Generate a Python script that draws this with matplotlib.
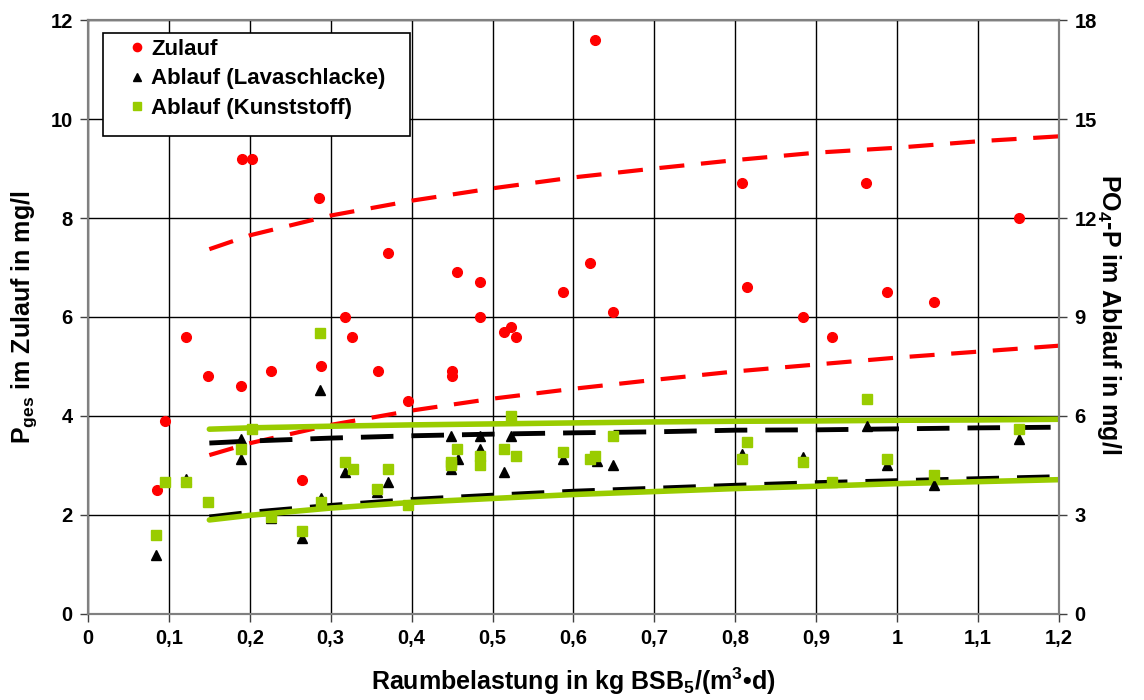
import numpy as np
import matplotlib
matplotlib.use('Agg')
import matplotlib.pyplot as plt
from matplotlib.patches import Rectangle

plt.rcParams['font.family'] = 'Liberation Sans'
plt.rcParams['font.weight'] = 'bold'
plt.rcParams['mathtext.fontset'] = 'custom'
plt.rcParams['mathtext.rm'] = 'Liberation Sans:bold'
plt.rcParams['mathtext.it'] = 'Liberation Sans:bold'
plt.rcParams['mathtext.bf'] = 'Liberation Sans:bold'
plt.rcParams['mathtext.default'] = 'rm'

# Zulauf (P_ges, left axis)
zu_x = [0.085, 0.095, 0.121, 0.148, 0.189, 0.190, 0.203, 0.226, 0.265, 0.286, 0.288, 0.318,
        0.326, 0.358, 0.371, 0.395, 0.450, 0.450, 0.456, 0.484, 0.485, 0.514, 0.523, 0.529,
        0.587, 0.620, 0.627, 0.649, 0.808, 0.815, 0.884, 0.919, 0.962, 0.987, 1.045, 1.150]
zu_y = [2.5, 3.9, 5.6, 4.8, 4.6, 9.2, 9.2, 4.9, 2.7, 8.4, 5.0, 6.0,
        5.6, 4.9, 7.3, 4.3, 4.9, 4.8, 6.9, 6.0, 6.7, 5.7, 5.8, 5.6,
        6.5, 7.1, 11.6, 6.1, 8.7, 6.6, 6.0, 5.6, 8.7, 6.5, 6.3, 8.0]

# Ablauf Lavaschlacke (PO4-P, right axis)
lava_x = [0.084, 0.121, 0.189, 0.189, 0.226, 0.265, 0.287, 0.288, 0.318, 0.357, 0.371, 0.449,
          0.449, 0.457, 0.484, 0.484, 0.514, 0.523, 0.587, 0.629, 0.649, 0.808, 0.884, 0.963,
          0.987, 1.045, 1.151]
lava_y = [1.8, 4.1, 5.3, 4.7, 2.9, 2.3, 6.8, 3.5, 4.3, 3.7, 4.0, 5.4,
          4.4, 4.7, 5.4, 5.0, 4.3, 5.4, 4.7, 4.65, 4.5, 4.85, 4.75, 5.7,
          4.5, 3.9, 5.3]

# Ablauf Kunststoff (PO4-P, right axis)
kunst_x = [0.084, 0.095, 0.121, 0.148, 0.189, 0.203, 0.226, 0.265, 0.287, 0.288, 0.318, 0.327,
           0.357, 0.371, 0.395, 0.449, 0.449, 0.456, 0.484, 0.484, 0.514, 0.523, 0.529, 0.587,
           0.620, 0.627, 0.649, 0.808, 0.815, 0.884, 0.919, 0.963, 0.987, 1.045, 1.151]
kunst_y = [2.4, 4.0, 4.0, 3.4, 5.0, 5.6, 2.95, 2.5, 8.5, 3.4, 4.6, 4.4,
           3.8, 4.4, 3.3, 4.6, 4.5, 5.0, 4.8, 4.5, 5.0, 6.0, 4.8, 4.9,
           4.7, 4.8, 5.4, 4.7, 5.2, 4.6, 4.0, 6.5, 4.7, 4.2, 5.6]

# trend / band curves
band_x = [0.15, 0.2, 0.3, 0.4, 0.5, 0.6, 0.7, 0.8, 0.9, 1.0, 1.1, 1.2]
zu_upper = [7.37, 7.65, 8.05, 8.35, 8.60, 8.82, 9.00, 9.17, 9.32, 9.42, 9.55, 9.65]
zu_lower = [3.21, 3.45, 3.82, 4.11, 4.35, 4.55, 4.73, 4.90, 5.04, 5.18, 5.30, 5.42]
lava_upper = [5.18, 5.24, 5.33, 5.40, 5.45, 5.49, 5.52, 5.57, 5.58, 5.61, 5.64, 5.66]
lava_lower = [2.94, 3.08, 3.29, 3.47, 3.60, 3.72, 3.81, 3.90, 3.98, 4.04, 4.10, 4.16]
kunst_upper = [5.60, 5.64, 5.69, 5.73, 5.76, 5.79, 5.82, 5.84, 5.85, 5.87, 5.88, 5.90]
kunst_lower = [2.85, 2.99, 3.21, 3.38, 3.50, 3.62, 3.71, 3.80, 3.87, 3.95, 4.01, 4.07]

red = '#FF0000'
green = '#99CC00'

fig = plt.figure(figsize=(11.44, 7), dpi=100)
ax = fig.add_axes([0.0769, 0.1229, 0.8488, 0.8485])
ax2 = ax.twinx()

ax.set_xlim(0, 1.2)
ax.set_ylim(0, 12)
ax2.set_ylim(0, 18)
ax.set_xticks(np.arange(0, 1.21, 0.1))
ax.set_xticklabels(['0', '0,1', '0,2', '0,3', '0,4', '0,5', '0,6', '0,7', '0,8', '0,9', '1', '1,1', '1,2'])
ax.set_yticks(np.arange(0, 12.1, 2))
ax2.set_yticks(np.arange(0, 18.1, 3))
ax.grid(True, color='black', linewidth=1)
ax.set_axisbelow(True)

for a in (ax, ax2):
    for s in a.spines.values():
        s.set_color('#808080')
        s.set_linewidth(1.5)
    a.tick_params(labelsize=14.5, length=6, width=1, color='#404040', pad=5)

# Zulauf
ax.plot(band_x, zu_upper, color=red, lw=3, dashes=(6, 4))
ax.plot(band_x, zu_lower, color=red, lw=3, dashes=(6, 4))
h1, = ax.plot(zu_x, zu_y, 'o', color=red, ms=7, mec=red, label='Zulauf')

# Ablauf
ax2.plot(band_x, lava_upper, color='black', lw=3.5, dashes=(6.7, 3.7))
ax2.plot(band_x, lava_lower, color='black', lw=3.5, dashes=(6.7, 3.7))
ax2.plot(band_x, kunst_upper, color=green, lw=4, solid_capstyle='round')
ax2.plot(band_x, kunst_lower, color=green, lw=4, solid_capstyle='round')
h2, = ax2.plot(lava_x, lava_y, '^', color='black', ms=7.5, label='Ablauf (Lavaschlacke)')
h3, = ax2.plot(kunst_x, kunst_y, 's', color=green, ms=7, label='Ablauf (Kunststoff)')

ax.set_xlabel('Raumbelastung in kg BSB$_5$/(m$^3$•d)', fontsize=18, fontweight='bold')
ax.xaxis.set_label_coords(0.5, -0.113)
ax.xaxis.label.set_verticalalignment('center')
ax.set_ylabel('P$_{ges}$ im Zulauf in mg/l', fontsize=18, fontweight='bold', va='center')
ax.yaxis.set_label_coords(-0.066, 0.5)
ax2.set_ylabel('PO$_4$-P im Ablauf in mg/l', fontsize=18, fontweight='bold', rotation=270,
               va='center', ha='center')
ax2.yaxis.set_label_coords(1.052, 0.505)

# legend frame drawn separately so the padding matches the original box
frame = Rectangle((0.0154, 0.8047), 0.316, 0.1734, transform=ax2.transAxes,
                  facecolor='white', edgecolor='black', linewidth=1.2, zorder=4.8)
ax2.add_patch(frame)
leg = ax2.legend(handles=[h1, h2, h3], loc='upper left', bbox_to_anchor=(0.039, 0.968),
                 fontsize=16, frameon=False, handlelength=1.0, handletextpad=0.15,
                 labelspacing=0.38, borderpad=0, borderaxespad=0, markerscale=0.85)
leg.set_zorder(5)

fig.savefig('out.png', dpi=100)
